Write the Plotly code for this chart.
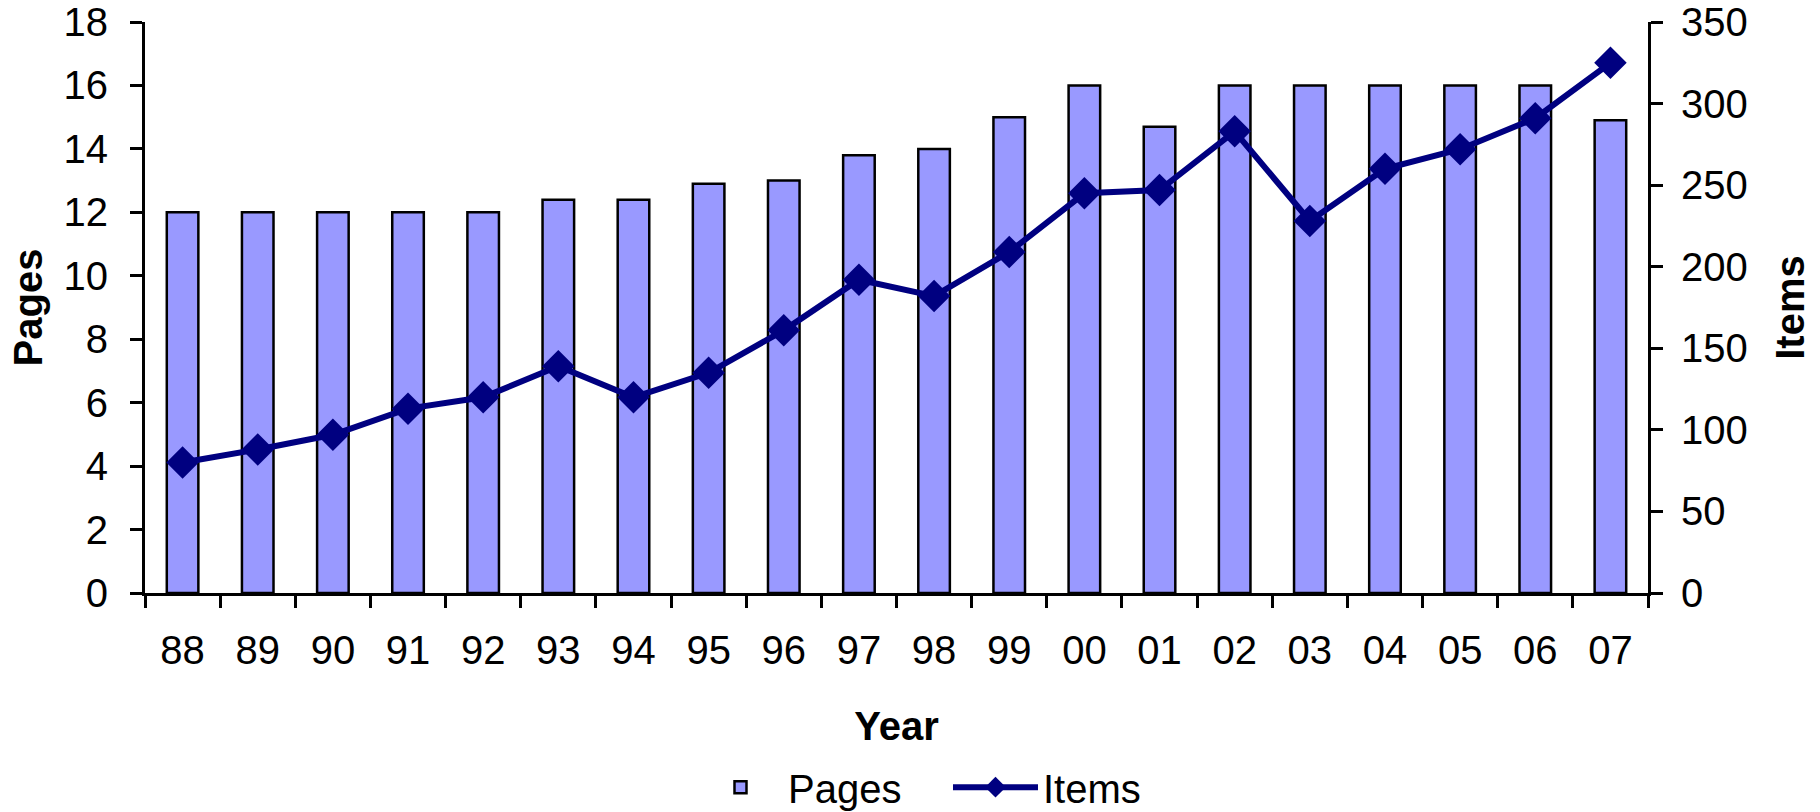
import plotly.graph_objects as go

years = ["88", "89", "90", "91", "92", "93", "94", "95", "96", "97",
         "98", "99", "00", "01", "02", "03", "04", "05", "06", "07"]
pages = [12, 12, 12, 12, 12, 12.4, 12.4, 12.9, 13, 13.8,
         14, 15, 16, 14.7, 16, 16, 16, 16, 16, 14.9]
items = [80, 88, 97, 113, 120, 139, 120, 135, 161, 192,
         182, 209, 245, 247, 283, 228, 260, 272, 291, 325]

FONT = "Liberation Sans, Arial, sans-serif"
FS = 40
BLACK = "#000000"

fig = go.Figure()
fig.add_trace(go.Bar(
    x=years, y=pages, name="Pages",
    marker=dict(color="#9999FF", line=dict(color=BLACK, width=2.5)),
    yaxis="y",
))
fig.add_trace(go.Scatter(
    x=years, y=items, name="Items", mode="lines+markers",
    line=dict(color="#000080", width=6),
    marker=dict(symbol="diamond", size=25, color="#000080"),
    yaxis="y2",
))

n = len(years)
common_tick = dict(tickcolor=BLACK, tickwidth=2.5, ticklen=12)

fig.update_layout(
    width=1820, height=812,
    margin=dict(l=145, r=172, t=22, b=219, autoexpand=False),
    paper_bgcolor="white", plot_bgcolor="white",
    font=dict(family=FONT, size=FS, color=BLACK),
    bargap=0.58,
    showlegend=True,
    legend=dict(
        orientation="h", x=0.3646, xanchor="left", y=-0.34, yanchor="middle",
        font=dict(size=FS), itemwidth=85, traceorder="normal",
        entrywidth=155, entrywidthmode="pixels",
        bgcolor="rgba(0,0,0,0)",
    ),
    xaxis=dict(
        type="category", categoryorder="array", categoryarray=years,
        range=[-0.5, n - 0.5], automargin=False,
        showline=True, linecolor=BLACK, linewidth=3,
        ticks="outside", tickson="boundaries", ticklabelstandoff=20,
        showgrid=False, zeroline=False,
        title=dict(text="<b>Year</b>", font=dict(size=FS), standoff=41),
        **common_tick,
    ),
    # inner half of the crossing ticks on the category axis
    xaxis3=dict(
        overlaying="x", anchor="y", side="bottom", type="linear",
        range=[-0.5, n - 0.5], automargin=False,
        tickmode="array", tickvals=[i - 0.5 for i in range(n + 1)],
        ticks="inside", showticklabels=False, showline=False,
        showgrid=False, zeroline=False, **common_tick,
    ),
    # grey border along the top of the plot area
    xaxis2=dict(
        overlaying="x", anchor="y", side="top", type="linear",
        range=[0, 1], automargin=False,
        showline=True, linecolor="#808080", linewidth=2,
        ticks="", showticklabels=False, showgrid=False, zeroline=False,
    ),
    yaxis=dict(
        range=[0, 18], dtick=2, tick0=0, automargin=False,
        showline=True, linecolor=BLACK, linewidth=3,
        ticks="outside", ticklabelstandoff=14,
        showgrid=False, zeroline=False,
        title=dict(text="<b>Pages</b>", font=dict(size=FS), standoff=9),
        **common_tick,
    ),
    yaxis3=dict(
        overlaying="y", anchor="x", side="left", automargin=False,
        range=[0, 18], dtick=2, tick0=0,
        ticks="inside", showticklabels=False, showline=False,
        showgrid=False, zeroline=False, **common_tick,
    ),
    yaxis2=dict(
        overlaying="y", anchor="x", side="right", automargin=False,
        range=[0, 350], dtick=50, tick0=0,
        showline=True, linecolor=BLACK, linewidth=3,
        ticks="outside", ticklabelstandoff=10,
        showgrid=False, zeroline=False,
        title=dict(text="<b>Items</b>", font=dict(size=FS), standoff=30),
        **common_tick,
    ),
    yaxis4=dict(
        overlaying="y", anchor="x", side="right", automargin=False,
        range=[0, 350], dtick=50, tick0=0,
        ticks="inside", showticklabels=False, showline=False,
        showgrid=False, zeroline=False, **common_tick,
    ),
)

fig.write_html("out.html")
